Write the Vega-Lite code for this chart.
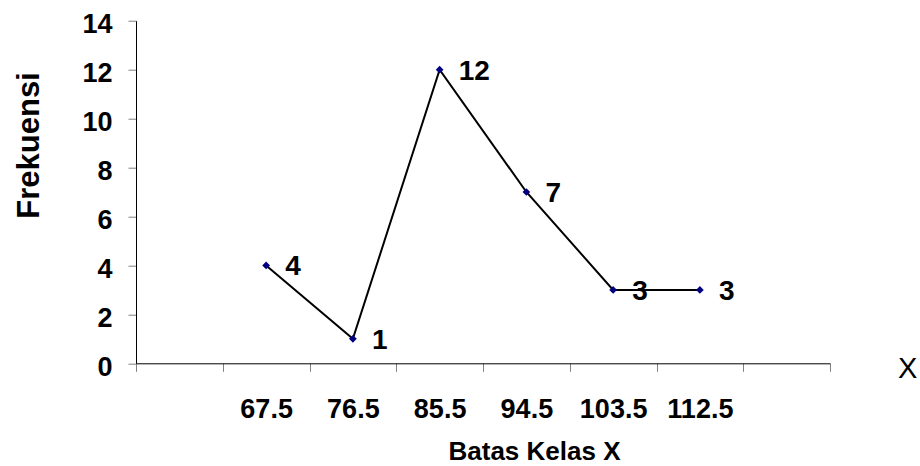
{
  "$schema": "https://vega.github.io/schema/vega-lite/v6.json",
  "width": 694,
  "height": 342.6,
  "autosize": {"type": "none"},
  "padding": {"left": 136, "top": 20.7, "right": 90, "bottom": 102.7},
  "background": "white",
  "config": {"view": {"stroke": null}, "font": "Liberation Sans"},
  "data": {
    "values": [
      {"batas": "67.5", "frekuensi": 4, "note": ""},
      {"batas": "76.5", "frekuensi": 1, "note": ""},
      {"batas": "85.5", "frekuensi": 12, "note": ""},
      {"batas": "94.5", "frekuensi": 7, "note": ""},
      {"batas": "103.5", "frekuensi": 3, "note": ""},
      {"batas": "112.5", "frekuensi": 3, "note": "X"}
    ]
  },
  "encoding": {
    "x": {
      "field": "batas",
      "type": "ordinal",
      "sort": null,
      "scale": {
        "type": "band",
        "domain": ["", "67.5", "76.5", "85.5", "94.5", "103.5", "112.5", " "],
        "paddingInner": 0,
        "paddingOuter": 0
      },
      "axis": {
        "title": "Batas Kelas X",
        "tickBand": "extent",
        "labelAngle": 0,
        "labelFont": "Liberation Sans",
        "labelFontSize": 27,
        "labelFontWeight": "bold",
        "labelColor": "black",
        "labelPadding": 25,
        "tickSize": 8,
        "tickColor": "#808080",
        "domainColor": "black",
        "grid": false,
        "titleFont": "Liberation Sans",
        "titleFontSize": 26,
        "titleFontWeight": "bold",
        "titleColor": "black",
        "titleX": 398,
        "titleY": 96.5,
        "titleBaseline": "alphabetic",
        "titleAlign": "center"
      }
    },
    "y": {
      "field": "frekuensi",
      "type": "quantitative",
      "scale": {"domain": [0, 14], "nice": false},
      "axis": {
        "title": "Frekuensi",
        "values": [0, 2, 4, 6, 8, 10, 12, 14],
        "labelFont": "Liberation Sans",
        "labelFontSize": 27,
        "labelFontWeight": "bold",
        "labelColor": "black",
        "labelPadding": 16,
        "labelOffset": 4,
        "tickSize": 8,
        "tickColor": "#808080",
        "domainColor": "black",
        "grid": false,
        "titleFont": "Liberation Sans",
        "titleFontSize": 31,
        "titleFontWeight": "bold",
        "titleColor": "black",
        "titleAngle": -90,
        "titleX": -98,
        "titleY": 124.3,
        "titleBaseline": "alphabetic",
        "titleAlign": "center"
      }
    }
  },
  "layer": [
    {"mark": {"type": "line", "color": "black", "strokeWidth": 2}},
    {"mark": {"type": "point", "shape": "diamond", "filled": true, "color": "#000080", "size": 60, "opacity": 1}},
    {
      "mark": {
        "type": "text",
        "align": "left",
        "baseline": "middle",
        "dx": 19,
        "dy": 2,
        "font": "Liberation Sans",
        "fontSize": 28,
        "fontWeight": "bold",
        "color": "black"
      },
      "encoding": {"text": {"field": "frekuensi", "type": "quantitative"}}
    },
    {
      "transform": [{"filter": "datum.note != ''"}],
      "mark": {
        "type": "text",
        "align": "left",
        "baseline": "alphabetic",
        "dx": 198,
        "dy": 14.4,
        "font": "Liberation Sans",
        "fontSize": 29,
        "fontWeight": "normal",
        "color": "black"
      },
      "encoding": {
        "y": {"datum": 0},
        "text": {"field": "note", "type": "nominal"}
      }
    }
  ]
}
